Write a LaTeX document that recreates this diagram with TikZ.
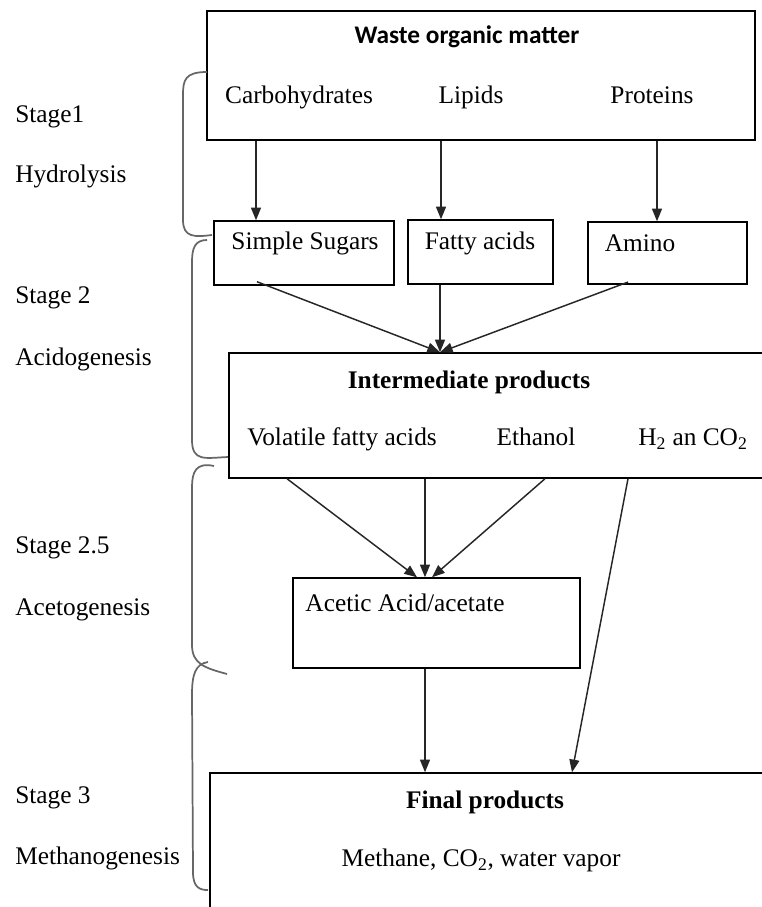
\documentclass[tikz,border=0pt]{standalone}
\usepackage{fontspec}
\setmainfont{Liberation Serif}
\newfontfamily\wastefont{Carlito}
\usetikzlibrary{arrows.meta,fit}
\tikzset{
  box/.style={draw, line width=1.1pt, inner sep=0pt},
  lbl/.style={inner sep=0pt, text height=13.5pt, text depth=4pt, font=\fontsize{19pt}{22pt}\selectfont},
  stagelbl/.style={lbl, anchor=west},
  bracket/.style={draw=black!60, line width=1.3pt},
  flow/.style={draw=black!85, line width=1.1pt},
}
\begin{document}
\begin{tikzpicture}[x=0.75pt, y=-0.75pt, >={Triangle[length=9.5pt,width=7.5pt]}]
\useasboundingbox (0,0) rectangle (762,907);
% boxes
\node[box, fit={(207,11) (755,140)}](waste) {};
\node[box, fit={(214,221) (394,285)}](sugars) {};
\node[box, fit={(408,220) (553,284)}](fatty) {};
\node[box, fit={(588,222) (747,284)}](amino) {};
\node[box, fit={(229,353) (775,478)}](interm) {};
\node[box, fit={(293,578) (580,668)}](acetic) {};
\node[box, fit={(210,773) (775,930)}](final) {};
%
\node[lbl](wastetitle) at (467,37) {\wastefont\bfseries Waste organic matter};
\node[lbl](carb) at (299,97) {Carbohydrates};
\node[lbl](lipids) at (471,97) {Lipids};
\node[lbl](prot) at (652,97) {Proteins};
\node[lbl](sugarstxt) at (305,243) {Simple Sugars};
\node[lbl](fattytxt) at (480,243) {Fatty acids};
\node[lbl](aminotxt) at (640,245) {Amino};
\node[lbl](intermtitle) at (469,382) {\bfseries Intermediate products};
\node[lbl](vfa) at (342,439) {Volatile fatty acids};
\node[lbl](ethanol) at (536,439) {Ethanol};
\node[lbl](gases) at (693,439) {H\textsubscript{2} an CO\textsubscript{2}};
\node[lbl](acetictxt) at (405,605) {Acetic Acid/acetate};
\node[lbl](finaltitle) at (485,802) {\bfseries Final products};
\node[lbl](finaltxt) at (481,860) {Methane, CO\textsubscript{2}, water vapor};
%
\node[stagelbl](s1) at (15,116) {Stage1};
\node[stagelbl](s1name) at (15,176) {Hydrolysis};
\node[stagelbl](s2) at (15,297) {Stage 2};
\node[stagelbl](s2name) at (15,359) {Acidogenesis};
\node[stagelbl](s25) at (15,547) {Stage 2.5};
\node[stagelbl](s25name) at (15,609) {Acetogenesis};
\node[stagelbl](s3) at (15,797) {Stage 3};
\node[stagelbl](s3name) at (15,858) {Methanogenesis};
%
\draw[flow,->](waste.south -| 256,0) -- (sugars.north -| 256,0);
\draw[flow,->](waste.south -| 441,0) -- (fatty.north -| 441,0);
\draw[flow,->](waste.south -| 657,0) -- (amino.north -| 657,0);
\draw[flow,->]([yshift=3pt]sugars.south -| 257,0) -- (interm.north -| 440,0);
\draw[flow,->](fatty.south -| 440,0) -- (interm.north -| 440,0);
\draw[flow,->]([yshift=2pt]amino.south -| 628,0) -- (interm.north -| 440,0);
\draw[flow,->](interm.south -| 287,0) -- (acetic.north -| 417,0);
\draw[flow,->](interm.south -| 425,0) -- (acetic.north -| 425,0);
\draw[flow,->](interm.south -| 545,0) -- (acetic.north -| 432,0);
\draw[flow,->](interm.south -| 628,0) -- (final.north -| 572,0);
\draw[flow,->](acetic.south -| 425,0) -- (final.north -| 425,0);
%
\draw[bracket](207,72) .. controls (185,72) and (183,80) .. (183,95) -- (183,220) .. controls (183,238) and (195,237) .. (212,235);
\draw[bracket](207,240) .. controls (195,240) and (192,248) .. (192,262) -- (192,440) .. controls (192,462) and (205,458) .. (228,457);
\draw[bracket](214,466) .. controls (196,462) and (192,472) .. (192,487) -- (192,645) .. controls (192,664) and (205,668) .. (227,674);
\draw[bracket](208,662) .. controls (195,664) and (192,675) .. (192,695) -- (193,872) .. controls (193,888) and (200,890) .. (208,890);
\end{tikzpicture}
\end{document}
